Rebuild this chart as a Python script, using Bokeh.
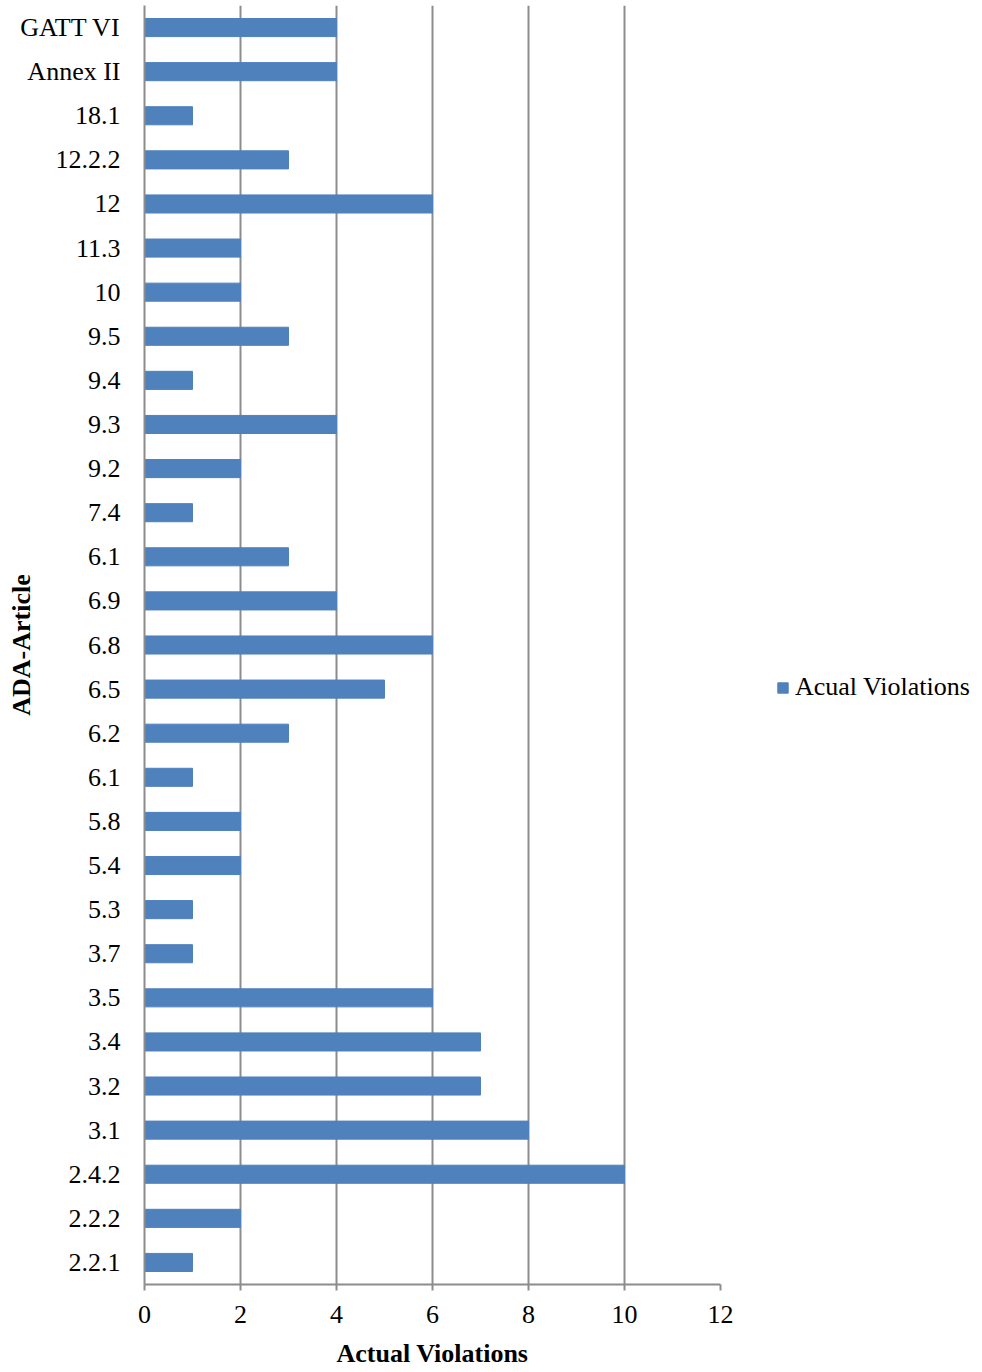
from bokeh.plotting import figure
from bokeh.models import ColumnDataSource, Legend, LegendItem, FixedTicker, Range1d
from bokeh.embed import file_html
from bokeh.resources import INLINE

# Data (bottom to top as drawn)
articles = ["2.2.1", "2.2.2", "2.4.2", "3.1", "3.2", "3.4", "3.5", "3.7", "5.3", "5.4",
            "5.8", "6.1", "6.2", "6.5", "6.8", "6.9", "6.1", "7.4", "9.2", "9.3",
            "9.4", "9.5", "10", "11.3", "12", "12.2.2", "18.1", "Annex II", "GATT VI"]
violations = [1, 2, 10, 8, 7, 7, 6, 1, 1, 2,
              2, 1, 3, 5, 6, 4, 3, 1, 2, 4,
              1, 3, 2, 2, 6, 3, 1, 4, 4]
x_ticks = [0, 2, 4, 6, 8, 10, 12]

positions = list(range(len(articles)))
src = ColumnDataSource(dict(y=positions, right=violations, label=articles))

FONT = "Liberation Serif"
GRAY = "#8c8c8c"
BLUE = "#4F81BD"

p = figure(width=976, height=1370, output_backend="svg", toolbar_location=None,
           x_range=Range1d(0, 12), y_range=Range1d(-0.5, len(articles) - 0.5),
           frame_width=576, min_border_left=144, min_border_top=5,
           min_border_bottom=0, min_border_right=0)
p.outline_line_color = None

r = p.hbar(y="y", right="right", left=0, height=0.41, source=src,
           fill_color=BLUE, line_color=BLUE)

# x axis
p.xaxis.ticker = FixedTicker(ticks=x_ticks)
p.xaxis.axis_line_color = GRAY
p.xaxis.axis_line_width = 2
p.xaxis.major_tick_line_color = GRAY
p.xaxis.major_tick_line_width = 2
p.xaxis.major_tick_out = 6
p.xaxis.major_tick_in = 0
p.xaxis.minor_tick_line_color = None
p.xaxis.major_label_text_font = FONT
p.xaxis.major_label_text_font_size = "26px"
p.xaxis.major_label_text_color = "black"
p.xaxis.major_label_standoff = 15
p.xaxis.axis_label = "Actual Violations"
p.xaxis.axis_label_text_font = FONT
p.xaxis.axis_label_text_font_size = "26px"
p.xaxis.axis_label_text_font_style = "bold"
p.xaxis.axis_label_text_color = "black"
p.xaxis.axis_label_standoff = 13

# y axis
p.yaxis.ticker = FixedTicker(ticks=positions)
p.yaxis.major_label_overrides = {i: lab for i, lab in enumerate(articles)}
p.yaxis.axis_line_color = GRAY
p.yaxis.axis_line_width = 2
p.yaxis.major_tick_line_color = None
p.yaxis.minor_tick_line_color = None
p.yaxis.major_tick_out = 0
p.yaxis.major_tick_in = 0
p.yaxis.major_label_text_font = FONT
p.yaxis.major_label_text_font_size = "26px"
p.yaxis.major_label_text_color = "black"
p.yaxis.major_label_standoff = 24
p.yaxis.axis_label = "ADA-Article"
p.yaxis.axis_label_text_font = FONT
p.yaxis.axis_label_text_font_size = "26px"
p.yaxis.axis_label_text_font_style = "bold"
p.yaxis.axis_label_text_color = "black"
p.yaxis.axis_label_standoff = -19

# grid
p.xgrid.grid_line_color = GRAY
p.xgrid.grid_line_width = 2
p.ygrid.grid_line_color = None

legend = Legend(items=[LegendItem(label="Acual Violations", renderers=[r])],
                location=(56, 582), padding=0, margin=0, glyph_width=13, glyph_height=13,
                label_standoff=6, label_text_font=FONT, label_text_font_size="26px",
                label_text_color="black", border_line_color=None, background_fill_alpha=0)
p.add_layout(legend, "right")

open("out.html", "w").write(file_html(p, INLINE))
